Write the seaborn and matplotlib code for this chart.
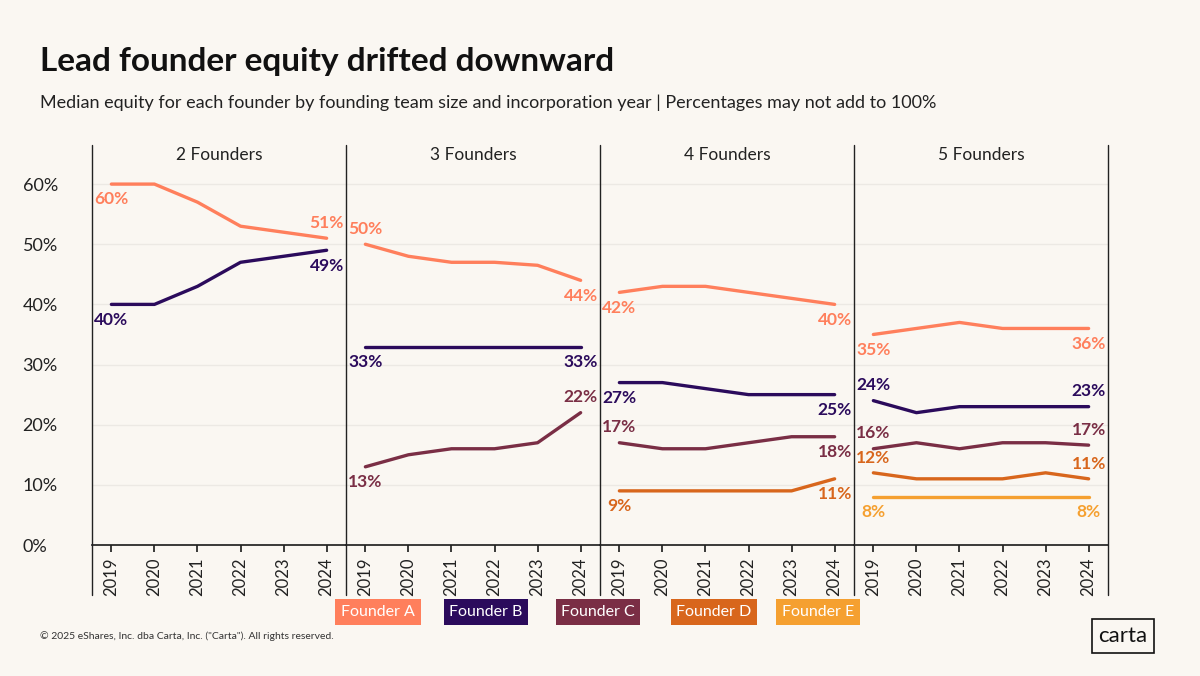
import numpy as np
import pandas as pd
import seaborn as sns
import matplotlib.pyplot as plt
from matplotlib.lines import Line2D

years = [2019, 2020, 2021, 2022, 2023, 2024]
panels = ['2 Founders', '3 Founders', '4 Founders', '5 Founders']
founders = ['Founder A', 'Founder B', 'Founder C', 'Founder D', 'Founder E']
colors = ['#FF7F5C', '#2B0B5C', '#7A2E45', '#D8661C', '#F5A030']

equity = {
    '2 Founders': {'Founder A': [60, 60, 57, 53, 52, 51],
                   'Founder B': [40, 40, 43, 47, 48, 49]},
    '3 Founders': {'Founder A': [50, 48, 47, 47, 46.5, 44],
                   'Founder B': [33, 33, 33, 33, 33, 33],
                   'Founder C': [13, 15, 16, 16, 17, 22]},
    '4 Founders': {'Founder A': [42, 43, 43, 42, 41, 40],
                   'Founder B': [27, 27, 26, 25, 25, 25],
                   'Founder C': [17, 16, 16, 17, 18, 18],
                   'Founder D': [9, 9, 9, 9, 9, 11]},
    '5 Founders': {'Founder A': [35, 36, 37, 36, 36, 36],
                   'Founder B': [24, 22, 23, 23, 23, 23],
                   'Founder C': [16, 17, 16, 17, 17, 16.6],
                   'Founder D': [12, 11, 11, 11, 12, 11],
                   'Founder E': [8, 8, 8, 8, 8, 8]},
}
# label position (first, last): +1 above, -1 below
label_side = {
    '2 Founders': {'Founder A': (-1, 1), 'Founder B': (-1, -1)},
    '3 Founders': {'Founder A': (1, -1), 'Founder B': (-1, -1), 'Founder C': (-1, 1)},
    '4 Founders': {'Founder A': (-1, -1), 'Founder B': (-1, -1), 'Founder C': (1, -1), 'Founder D': (-1, -1)},
    '5 Founders': {'Founder A': (-1, -1), 'Founder B': (1, 1), 'Founder C': (1, 1), 'Founder D': (1, 1), 'Founder E': (-1, -1)},
}

rows = []
for p in panels:
    for f, vals in equity[p].items():
        for y, v in zip(years, vals):
            rows.append({'panel': p, 'founder': f, 'year': y, 'equity': v})
df = pd.DataFrame(rows)

bg = '#FAF7F2'
sns.set_theme(style='white')
plt.rcParams['font.family'] = ['Lato', 'DejaVu Sans']
W, H = 1200, 676
fig = plt.figure(figsize=(12, 6.76), dpi=100, facecolor=bg)
palette = dict(zip(founders, colors))

x0, x1 = 92, 1108
pw = (x1 - x0) / 4
top, bottom = 145, 545
for i, p in enumerate(panels):
    ax = fig.add_axes([(x0 + i * pw) / W, 1 - bottom / H, pw / W, (bottom - top) / H])
    ax.set_facecolor(bg)
    sub = df[df['panel'] == p]
    sns.lineplot(data=sub, x='year', y='equity', hue='founder', palette=palette,
                 linewidth=2.4, legend=False, ax=ax)
    ax.set_ylim(0, 66.5)
    ax.set_xlim(2018.55, 2024.45)
    for g in range(10, 70, 10):
        ax.axhline(g, color='#ECE9E4', lw=1, zorder=0)
    ax.set_xticks(years)
    ax.set_xticklabels([str(y) for y in years], rotation=90, fontsize=12, color='#222')
    ax.tick_params(axis='x', length=5, color='#222', pad=4, bottom=True)
    ax.set_xlabel('')
    ax.set_ylabel('')
    if i == 0:
        ax.set_yticks(range(0, 70, 10))
        ax.set_yticklabels([f'{t}%' for t in range(0, 70, 10)], fontsize=13, color='#222')
        ax.tick_params(axis='y', length=0, pad=50)
        for lbl in ax.get_yticklabels():
            lbl.set_horizontalalignment('left')
    else:
        ax.set_yticks([])
    for s in ['top', 'left', 'right']:
        ax.spines[s].set_visible(False)
    ax.spines['bottom'].set_color('#222')
    ax.text(0.5, 0.995, p, transform=ax.transAxes, ha='center', va='top', fontsize=12.5, color='#222')
    for f, vals in equity[p].items():
        sf, sl = label_side[p][f]
        for x, v, s in [(years[0], vals[0], sf), (years[-1], vals[-1], sl)]:
            ax.annotate(f'{round(v)}%', (x, v), xytext=(0, 11 * s), textcoords='offset points',
                        ha='center', va='center', fontsize=12.5, fontweight='bold', color=palette[f])

for i in range(5):
    x = (x0 + i * pw) / W
    fig.add_artist(Line2D([x, x], [1 - 145 / H, 1 - 595 / H], color='#222', lw=1))

fig.text(40 / W, 1 - 62 / H, 'Lead founder equity drifted downward', fontsize=24, fontweight='bold',
         color='#111', va='center')
fig.text(40 / W, 1 - 103 / H, 'Median equity for each founder by founding team size and incorporation year | '
         'Percentages may not add to 100%', fontsize=13, color='#222', va='center')
fig.text(40 / W, 1 - 636 / H, '© 2025 eShares, Inc. dba Carta, Inc. ("Carta"). All rights reserved.',
         fontsize=7.5, color='#333', va='center')
fig.text(1123 / W, 1 - 636 / H, 'carta', fontsize=16, color='#111', ha='center', va='center',
         bbox=dict(boxstyle='square,pad=0.3', fc=bg, ec='#111', lw=1.2))

lx = [378, 486, 598, 714, 818]
for f, c, x in zip(founders, colors, lx):
    fig.text(x / W, 1 - 612 / H, f, fontsize=11.5, color='white', ha='center', va='center',
             bbox=dict(boxstyle='square,pad=0.35', fc=c, ec='none'))

fig.savefig('out.png', dpi=100, facecolor=bg)
